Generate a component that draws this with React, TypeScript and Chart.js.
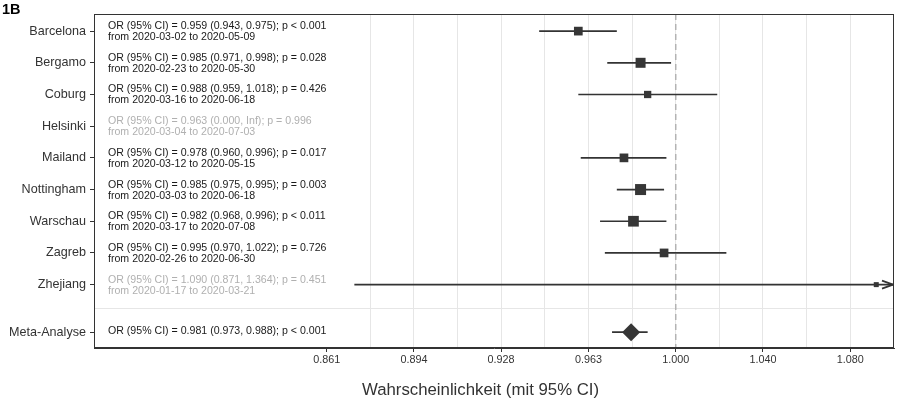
import React, { useEffect, useRef } from 'react';
import { Chart, registerables } from 'chart.js';

Chart.register(...registerables);

// ---------- data ----------
const studies = ['Barcelona', 'Bergamo', 'Coburg', 'Helsinki', 'Mailand', 'Nottingham', 'Warschau', 'Zagreb', 'Zhejiang'];
const orValues = [0.959, 0.985, 0.988, 0.963, 0.978, 0.985, 0.982, 0.995, 1.090];
const ciLower = [0.943, 0.971, 0.959, 0.0, 0.960, 0.975, 0.968, 0.970, 0.871];
const ciUpper = [0.975, 0.998, 1.018, Infinity, 0.996, 0.995, 0.996, 1.022, 1.364];
const pTexts = ['p < 0.001', 'p = 0.028', 'p = 0.426', 'p = 0.996', 'p = 0.017', 'p = 0.003', 'p < 0.011', 'p = 0.726', 'p = 0.451'];
const periodFrom = ['2020-03-02', '2020-02-23', '2020-03-16', '2020-03-04', '2020-03-12', '2020-03-03', '2020-03-17', '2020-02-26', '2020-01-17'];
const periodTo = ['2020-05-09', '2020-05-30', '2020-06-18', '2020-07-03', '2020-05-15', '2020-06-18', '2020-07-08', '2020-06-30', '2020-03-21'];
const excluded = [false, false, false, true, false, false, false, false, true];
const markerWeight = [8.7, 10, 7.3, 0, 8.7, 11, 10.7, 8.7, 5];

const metaLabel = 'Meta-Analyse';
const metaOR = 0.981;
const metaLower = 0.973;
const metaUpper = 0.988;
const metaP = 'p < 0.001';

const tickValues = [0.8607, 0.8936, 0.9277, 0.9632, 1.0, 1.0382, 1.0779];
const tickLabels = ['0.861', '0.894', '0.928', '0.963', '1.000', '1.040', '1.080'];
const minorTickValues = [0.877, 0.9105, 0.9453, 0.9814, 1.0189, 1.0579];

const panelTag = '1B';
const xTitle = 'Wahrscheinlichkeit (mit 95% CI)';

// ---------- helpers ----------
const metaPos = studies.length + 0.5;
const separatorPos = studies.length - 0.25;
const fmt = (v: number) => (isFinite(v) ? v.toFixed(3) : 'Inf');
const orText = (o: number, l: number, u: number, p: string) => `OR (95% CI) = ${fmt(o)} (${fmt(l)}, ${fmt(u)}); ${p}`;

const FONT = "'Liberation Sans', Arial, Helvetica, sans-serif";
const DARK = '#333333';

const forestPlugin = {
  id: 'forest',
  beforeDatasetsDraw(chart: any) {
    const { ctx, chartArea: a, scales } = chart;
    const xs = scales.x;
    const ys = scales.y;
    ctx.save();
    // separator above meta-analysis
    const sy = Math.round(ys.getPixelForValue(separatorPos)) + 0.5;
    ctx.strokeStyle = '#e6e6e6';
    ctx.lineWidth = 1;
    ctx.beginPath();
    ctx.moveTo(a.left, sy);
    ctx.lineTo(a.right, sy);
    ctx.stroke();
    // reference line at OR = 1
    const x1 = xs.getPixelForValue(1);
    ctx.strokeStyle = '#b3b3b3';
    ctx.lineWidth = 1.5;
    ctx.setLineDash([6, 4]);
    ctx.beginPath();
    ctx.moveTo(x1, a.top);
    ctx.lineTo(x1, a.bottom);
    ctx.stroke();
    ctx.setLineDash([]);

    // confidence intervals
    ctx.beginPath();
    ctx.rect(a.left, a.top, a.right - a.left, a.bottom - a.top);
    ctx.clip();
    ctx.strokeStyle = DARK;
    ctx.lineWidth = 1.7;
    const drawCI = (lo: number, hi: number, row: number) => {
      if (!(lo > 0) || !isFinite(hi)) return;
      const y = ys.getPixelForValue(row);
      const xl = Math.max(xs.getPixelForValue(lo), a.left);
      const overflow = xs.getPixelForValue(hi) > a.right;
      const xr = overflow ? a.right - 1 : xs.getPixelForValue(hi);
      ctx.beginPath();
      ctx.moveTo(xl, y);
      ctx.lineTo(xr, y);
      ctx.stroke();
      if (overflow) {
        ctx.beginPath();
        ctx.moveTo(xr - 11, y - 4);
        ctx.lineTo(xr, y);
        ctx.lineTo(xr - 11, y + 4);
        ctx.stroke();
      }
    };
    studies.forEach((_, i) => drawCI(ciLower[i], ciUpper[i], i));
    drawCI(metaLower, metaUpper, metaPos);
    ctx.restore();
  },
  afterDatasetsDraw(chart: any) {
    const { ctx, chartArea: a, scales } = chart;
    const ys = scales.y;
    ctx.save();
    // annotation texts
    ctx.font = `10.6px ${FONT}`;
    ctx.textAlign = 'left';
    ctx.textBaseline = 'alphabetic';
    const tx = a.left + 14;
    studies.forEach((_, i) => {
      const y = ys.getPixelForValue(i);
      ctx.fillStyle = excluded[i] ? '#b0b0b0' : '#1a1a1a';
      ctx.fillText(orText(orValues[i], ciLower[i], ciUpper[i], pTexts[i]), tx, y - 2);
      ctx.fillText(`from ${periodFrom[i]} to ${periodTo[i]}`, tx, y + 9);
    });
    ctx.fillStyle = '#1a1a1a';
    ctx.fillText(orText(metaOR, metaLower, metaUpper, metaP), tx, ys.getPixelForValue(metaPos) + 2);

    // panel border
    ctx.strokeStyle = DARK;
    ctx.lineWidth = 1;
    ctx.strokeRect(a.left + 0.5, a.top + 0.5, a.right - a.left - 1, a.bottom - a.top - 1);

    // panel tag
    ctx.fillStyle = '#000';
    ctx.font = `bold 14.5px ${FONT}`;
    ctx.fillText(panelTag, 2, 14);

    // x axis title
    ctx.fillStyle = DARK;
    ctx.font = `16.8px ${FONT}`;
    ctx.textAlign = 'center';
    ctx.fillText(xTitle, (a.left + a.right) / 2 - 13.5, 395);
    ctx.restore();
  },
};

export default function App() {
  const ref = useRef<HTMLCanvasElement | null>(null);

  useEffect(() => {
    if (!ref.current) return;
    Chart.defaults.font.family = FONT;
    const allTicks = [...tickValues, ...minorTickValues].sort((p, q) => p - q);

    const studyPoints = studies
      .map((_, i) => ({ x: orValues[i], y: i, r: markerWeight[i] / Math.SQRT2, ok: isFinite(ciUpper[i]) && ciLower[i] > 0 }))
      .filter((p) => p.ok);

    const chart = new Chart(ref.current, {
      type: 'scatter',
      data: {
        datasets: [
          {
            label: 'studies',
            data: studyPoints.map((p) => ({ x: p.x, y: p.y })),
            pointStyle: 'rect',
            pointRadius: studyPoints.map((p) => p.r),
            backgroundColor: '#363636',
            borderColor: '#363636',
            borderWidth: 0,
          },
          {
            label: 'meta',
            data: [{ x: metaOR, y: metaPos }],
            pointStyle: 'rectRot',
            pointRadius: 9,
            backgroundColor: '#363636',
            borderColor: '#363636',
            borderWidth: 0,
          },
        ],
      },
      options: {
        animation: false,
        responsive: false,
        devicePixelRatio: 1,
        layout: { autoPadding: false, padding: { left: 0, right: 3, top: 14, bottom: 0 } },
        plugins: { legend: { display: false }, tooltip: { enabled: false }, title: { display: false } },
        scales: {
          x: {
            type: 'logarithmic',
            min: Math.exp(-0.25),
            max: Math.exp(0.0938),
            afterBuildTicks: (s: any) => {
              s.ticks = allTicks.map((v) => ({ value: v }));
            },
            afterFit: (s: any) => {
              s.height = 51;
              s.paddingLeft = 0;
              s.paddingRight = 0;
            },
            ticks: {
              autoSkip: false,
              maxRotation: 0,
              minRotation: 0,
              color: DARK,
              font: { size: 10.8, family: FONT },
              padding: 2,
              callback: (v: any) => {
                const k = tickValues.indexOf(Number(v));
                return k >= 0 ? tickLabels[k] : '';
              },
            },
            grid: {
              lineWidth: 1,
              tickLength: 4,
              color: (c: any) => (c.tick && c.tick.value < 0.87 ? 'rgba(0,0,0,0)' : '#e6e6e6'),
              tickColor: (c: any) => (c.tick && tickValues.includes(c.tick.value) ? DARK : 'rgba(0,0,0,0)'),
            },
            border: { display: true, color: DARK },
          },
          y: {
            type: 'linear',
            reverse: true,
            min: -0.54,
            max: 10.0,
            afterBuildTicks: (s: any) => {
              s.ticks = [...studies.map((_, i) => ({ value: i })), { value: metaPos }];
            },
            afterFit: (s: any) => {
              s.width = 94;
              s.paddingTop = 0;
              s.paddingBottom = 0;
            },
            ticks: {
              autoSkip: false,
              color: DARK,
              font: { size: 12.6, family: FONT },
              padding: 4,
              callback: (v: any) => {
                const n = Number(v);
                if (n === metaPos) return metaLabel;
                return studies[n] ?? '';
              },
            },
            grid: { drawOnChartArea: false, tickLength: 4, tickColor: DARK, color: DARK },
            border: { display: true, color: DARK },
          },
        },
      },
      plugins: [forestPlugin],
    });
    return () => chart.destroy();
  }, []);

  return (
    <div style={{ position: 'fixed', left: 0, top: 0, width: 897, height: 399, background: '#fff' }}>
      <canvas ref={ref} width={897} height={399} style={{ display: 'block', width: 897, height: 399 }} />
    </div>
  );
}
